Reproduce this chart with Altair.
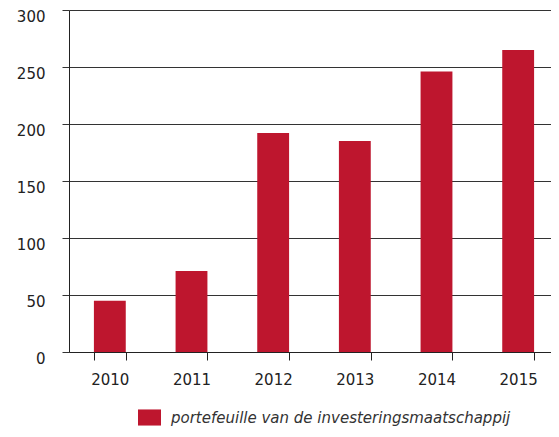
import altair as alt
import pandas as pd

years = ["2010", "2011", "2012", "2013", "2014", "2015"]
values = [45, 71, 192, 185, 246, 265]
series_name = "portefeuille van de investeringsmaatschappij"
y_ticks = [0, 50, 100, 150, 200, 250, 300]

df = pd.DataFrame({"jaar": years, "waarde": values, "reeks": [series_name] * len(years)})

RED = "#BE162E"
TXT = "#222222"
FONT = "DejaVu Sans"

chart = alt.Chart(df).mark_bar().encode(
    x=alt.X(
        "jaar:N", sort=years, title=None,
        scale=alt.Scale(paddingInner=0.61, paddingOuter=0.305, range=[0, 490]),
        axis=alt.Axis(
            labelAngle=0, tickBand="extent", ticks=True, tickSize=8,
            tickColor=TXT, tickWidth=1, domain=True, domainColor=TXT, domainWidth=1,
            labelPadding=12, labelFontSize=15, labelColor=TXT, labelFont=FONT,
            grid=False, labelBaseline="top",
        ),
    ),
    y=alt.Y(
        "waarde:Q", title=None,
        scale=alt.Scale(domain=[0, 300], nice=False),
        axis=alt.Axis(
            values=y_ticks, tickSize=7, tickColor="#333333", tickWidth=1,
            grid=True, gridColor="#333333", gridWidth=1,
            domain=True, domainColor=TXT, domainWidth=1,
            labelPadding=17, labelFontSize=15, labelColor=TXT, labelFont=FONT,
            labelOffset=6, labelBaseline="middle",
        ),
    ),
    color=alt.Color(
        "reeks:N",
        scale=alt.Scale(range=[RED]),
        legend=alt.Legend(
            title=None, orient="none", legendX=69, legendY=396,
            symbolType="M-1,-0.7H1V0.7H-1Z", symbolSize=529,
            symbolStrokeWidth=0, padding=0, labelOffset=10,
            labelFont=FONT, labelFontSize=15, labelFontStyle="italic",
            labelColor="#333333", labelLimit=0,
        ),
    ),
).properties(
    width=482, height=342,
    padding={"left": 61, "top": 2, "right": 0, "bottom": 77},
    autosize="none",
).configure_view(stroke=None)

chart.save("out.html", embed_options={"renderer": "svg", "actions": False})
